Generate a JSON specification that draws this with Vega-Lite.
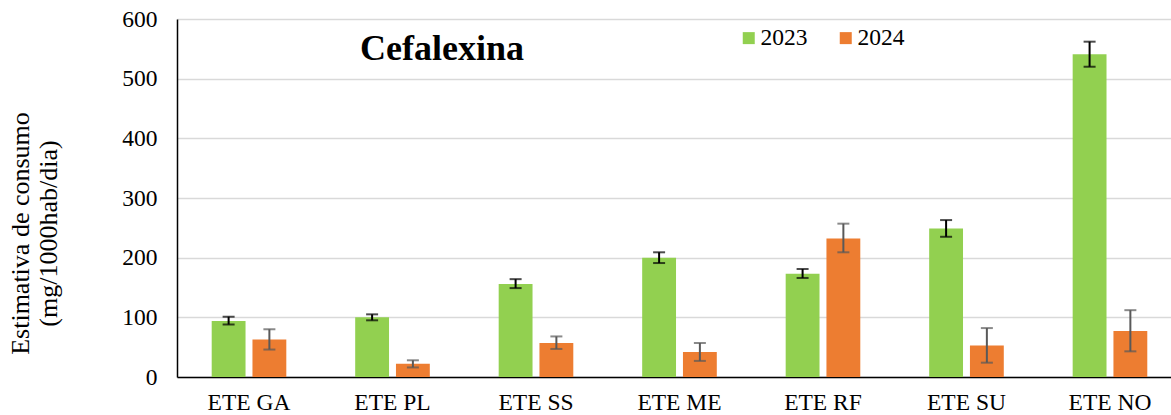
{
  "$schema": "https://vega.github.io/schema/vega-lite/v6.json",
  "width": 994,
  "height": 358,
  "autosize": "none",
  "padding": {"left": 177, "top": 19, "right": 0, "bottom": 38},
  "background": "white",
  "title": {
    "text": "Cefalexina",
    "anchor": "start",
    "frame": "group",
    "orient": "top",
    "baseline": "alphabetic",
    "offset": 0,
    "dx": 183,
    "dy": 89,
    "font": "Liberation Serif",
    "fontSize": 36,
    "fontWeight": "bold",
    "color": "black"
  },
  "data": {
    "values": [
      {"site": "ETE GA", "year": "2023", "value": 94, "lo": 88, "hi": 101},
      {"site": "ETE GA", "year": "2024", "value": 63, "lo": 46, "hi": 80},
      {"site": "ETE PL", "year": "2023", "value": 100, "lo": 95, "hi": 105},
      {"site": "ETE PL", "year": "2024", "value": 22, "lo": 16, "hi": 28},
      {"site": "ETE SS", "year": "2023", "value": 156, "lo": 149, "hi": 164},
      {"site": "ETE SS", "year": "2024", "value": 57, "lo": 47, "hi": 68},
      {"site": "ETE ME", "year": "2023", "value": 200, "lo": 191, "hi": 209},
      {"site": "ETE ME", "year": "2024", "value": 42, "lo": 27, "hi": 57},
      {"site": "ETE RF", "year": "2023", "value": 173, "lo": 166, "hi": 181},
      {"site": "ETE RF", "year": "2024", "value": 232, "lo": 209, "hi": 257},
      {"site": "ETE SU", "year": "2023", "value": 249, "lo": 235, "hi": 263},
      {"site": "ETE SU", "year": "2024", "value": 53, "lo": 24, "hi": 82},
      {"site": "ETE NO", "year": "2023", "value": 541, "lo": 520, "hi": 562},
      {"site": "ETE NO", "year": "2024", "value": 77, "lo": 43, "hi": 112}
    ]
  },
  "encoding": {
    "x": {
      "field": "site",
      "type": "nominal",
      "sort": null,
      "title": null,
      "scale": {"paddingInner": 0.48, "paddingOuter": 0.2035, "align": 0.594},
      "axis": {
        "labelAngle": 0,
        "labelFontSize": 23.5,
        "labelFont": "Liberation Serif",
        "labelColor": "black",
        "labelPadding": 13,
        "ticks": false,
        "domainColor": "black",
        "domainWidth": 1.5,
        "grid": false
      }
    },
    "xOffset": {
      "field": "year",
      "type": "nominal",
      "scale": {"paddingInner": 0.17, "paddingOuter": 0}
    }
  },
  "layer": [
    {
      "mark": {"type": "bar"},
      "encoding": {
        "y": {
          "field": "value",
          "type": "quantitative",
          "scale": {"domain": [0, 600]},
          "title": ["Estimativa de consumo", "(mg/1000hab/dia)"],
          "axis": {
            "values": [0, 100, 200, 300, 400, 500, 600],
            "labelFontSize": 23.5,
            "labelFont": "Liberation Serif",
            "labelColor": "black",
            "labelPadding": 20,
            "ticks": false,
            "domainColor": "black",
            "domainWidth": 1.5,
            "gridColor": "#D9D9D9",
            "gridWidth": 1.3,
            "titleFont": "Liberation Serif",
            "titleFontSize": 26,
            "titleFontWeight": "normal",
            "titleColor": "black",
            "titleX": -144,
            "titleY": 214,
            "titleLineHeight": 28
          }
        },
        "color": {
          "field": "year",
          "type": "nominal",
          "scale": {"domain": ["2023", "2024"], "range": ["#92D050", "#ED7D31"]},
          "legend": {
            "title": null,
            "orient": "none",
            "direction": "horizontal",
            "legendX": 560,
            "legendY": 7,
            "symbolType": "square",
            "symbolSize": 144,
            "symbolStrokeWidth": 0,
            "labelFont": "Liberation Serif",
            "labelFontSize": 23.5,
            "labelColor": "black",
            "labelOffset": 0,
            "columnPadding": 26
          }
        }
      }
    },
    {
      "mark": {"type": "rule", "strokeWidth": 2},
      "encoding": {
        "y": {"field": "lo", "type": "quantitative"},
        "y2": {"field": "hi"},
        "color": {"condition": {"test": "datum.year === '2023'", "value": "black"}, "value": "#595959"}
      }
    },
    {
      "mark": {"type": "tick", "orient": "horizontal", "size": 12, "thickness": 2},
      "encoding": {
        "y": {"field": "lo", "type": "quantitative"},
        "color": {"condition": {"test": "datum.year === '2023'", "value": "black"}, "value": "#595959"}
      }
    },
    {
      "mark": {"type": "tick", "orient": "horizontal", "size": 12, "thickness": 2},
      "encoding": {
        "y": {"field": "hi", "type": "quantitative"},
        "color": {"condition": {"test": "datum.year === '2023'", "value": "black"}, "value": "#595959"}
      }
    }
  ],
  "config": {
    "font": "Liberation Serif",
    "view": {"stroke": null}
  }
}
